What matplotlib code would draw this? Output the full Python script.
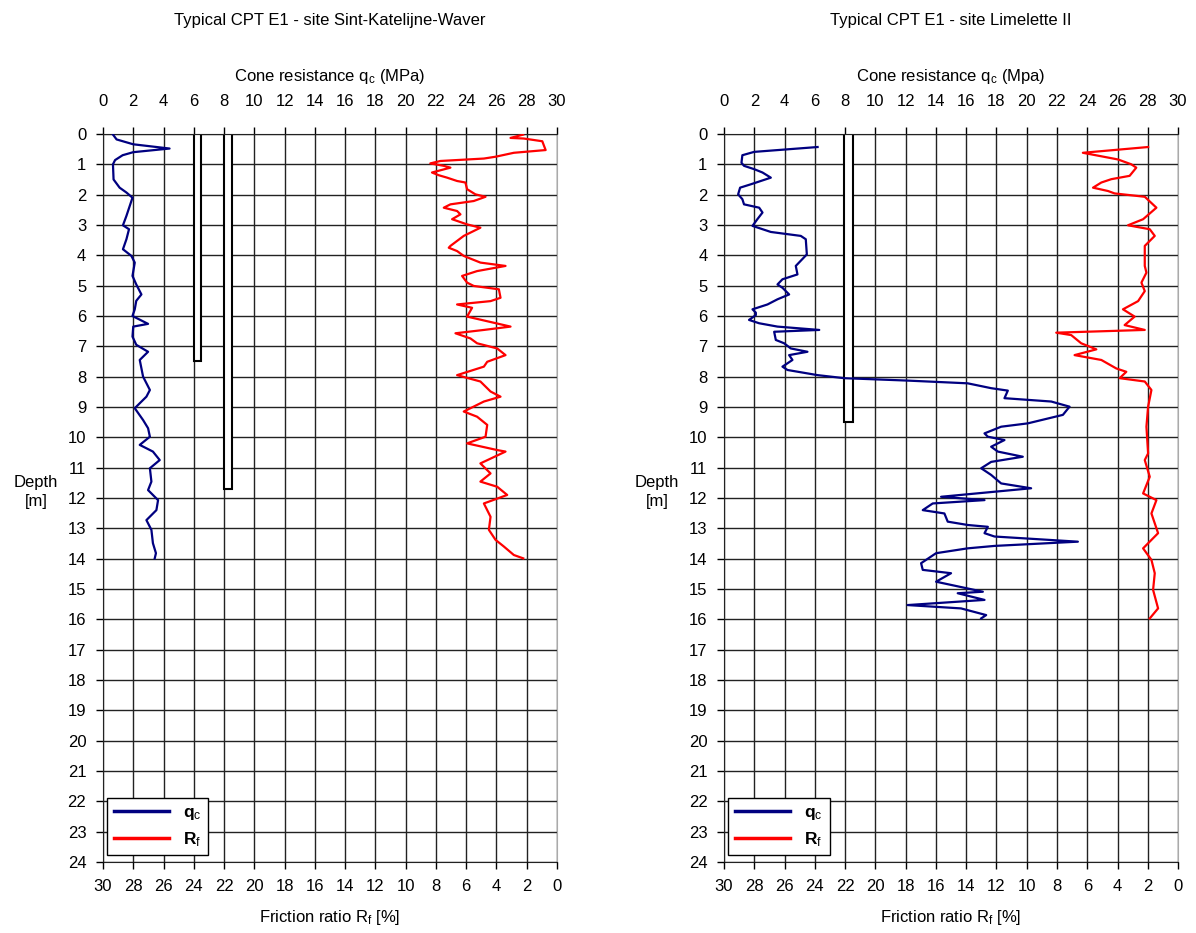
import numpy as np
import matplotlib.pyplot as plt
from matplotlib.patches import Rectangle

plt.rcParams['font.family'] = ['Liberation Sans', 'DejaVu Sans']
plt.rcParams['mathtext.fontset'] = 'custom'
plt.rcParams['mathtext.rm'] = 'Liberation Sans'
plt.rcParams['mathtext.it'] = 'Liberation Sans:italic'
plt.rcParams['mathtext.bf'] = 'Liberation Sans:bold'

# ========== Sint-Katelijne-Waver ========== #
skw_qc_depth = [0.02, 0.18, 0.34, 0.48, 0.6, 0.7, 0.86, 1.0, 1.5, 1.77, 1.93, 2.1, 2.37, 2.7,
                3.01, 3.14, 3.47, 3.8, 4.02, 4.24, 4.68, 4.96, 5.29, 5.5, 5.78, 6.0, 6.26, 6.35,
                6.68, 6.95, 7.18, 7.45, 8.0, 8.44, 8.66, 9.04, 9.43, 9.7, 9.98, 10.25, 10.47,
                10.75, 11.02, 11.46, 11.74, 12.07, 12.4, 12.73, 13.05, 13.49, 13.82, 13.99]
skw_qc = [0.66, 0.9, 2.0, 4.4, 2.0, 1.3, 0.8, 0.66, 0.7, 1.1, 1.55, 1.95, 1.77, 1.55,
          1.32, 1.72, 1.55, 1.32, 1.88, 2.1, 1.95, 2.2, 2.54, 2.2, 2.1, 1.95, 2.98, 2.0,
          1.95, 2.2, 2.98, 2.43, 2.65, 3.1, 2.87, 2.1, 2.65, 2.98, 3.1, 2.43, 3.3,
          3.75, 3.1, 3.2, 2.98, 3.64, 3.53, 2.87, 3.2, 3.3, 3.5, 3.42]

skw_rf_depth = [0.02, 0.13, 0.15, 0.24, 0.53, 0.62, 0.75, 0.81, 0.89, 0.97, 1.05, 1.11, 1.27,
                1.36, 1.44, 1.55, 1.6, 1.82, 1.99, 2.07, 2.21, 2.32, 2.43, 2.54, 2.65, 2.81,
                2.98, 3.09, 3.36, 3.69, 3.75, 3.86, 4.02, 4.24, 4.35, 4.52, 4.68, 4.9, 5.01,
                5.12, 5.4, 5.51, 5.62, 5.73, 6.02, 6.35, 6.46, 6.57, 6.74, 6.9, 7.07, 7.29,
                7.51, 7.67, 7.95, 8.16, 8.49, 8.66, 8.82, 9.15, 9.32, 9.59, 9.98, 10.2, 10.42,
                10.47, 10.86, 11.19, 11.46, 11.63, 11.9, 12.18, 12.62, 13.05, 13.38, 13.6,
                13.88, 13.99]
skw_rf = [2.23, 3.07, 2.19, 0.97, 0.75, 2.85, 4.06, 4.83, 7.7, 8.37, 7.48, 7.04, 8.26,
          7.81, 7.26, 6.6, 6.05, 5.94, 5.39, 4.72, 5.5, 7.04, 7.48, 6.6, 6.38, 6.93,
          5.94, 5.06, 6.16, 7.04, 7.15, 6.6, 6.16, 5.06, 3.4, 5.28, 6.27, 5.94, 5.5,
          3.84, 3.73, 4.39, 6.6, 5.61, 5.94, 3.07, 4.83, 6.71, 5.72, 5.28, 3.95, 3.4,
          4.61, 4.83, 6.6, 5.06, 4.39, 3.73, 4.83, 6.16, 5.28, 4.61, 4.72, 5.94, 3.95,
          3.4, 5.06, 4.39, 5.06, 3.95, 3.29, 4.83, 4.39, 4.5, 4.06, 3.51,
          2.85, 2.23]

# ========== Limelette II ========== #
lim_qc_depth = [0.43, 0.59, 0.7, 0.95, 1.05, 1.16, 1.27, 1.44, 1.66, 1.77, 1.99, 2.15, 2.32,
                2.43, 2.59, 2.81, 3.03, 3.23, 3.36, 3.47, 3.97, 4.35, 4.63, 4.79, 4.96, 5.07,
                5.29, 5.45, 5.62, 5.78, 5.89, 5.97, 6.13, 6.24, 6.35, 6.46, 6.52, 6.79, 6.9,
                7.07, 7.18, 7.29, 7.45, 7.67, 7.78, 7.95, 8.05, 8.13, 8.22, 8.38, 8.46, 8.71,
                8.82, 8.99, 9.26, 9.54, 9.65, 9.87, 9.98, 10.09, 10.31, 10.47, 10.64, 10.81,
                11.02, 11.24, 11.52, 11.68, 11.96, 12.07, 12.18, 12.4, 12.51, 12.78, 12.89,
                12.95, 13.16, 13.27, 13.44, 13.58, 13.66, 13.82, 14.15, 14.37, 14.48, 14.76,
                15.09, 15.14, 15.36, 15.53, 15.64, 15.86, 15.97]
lim_qc = [6.18, 1.99, 1.21, 1.15, 1.32, 1.99, 2.54, 3.09, 1.76, 1.06, 0.93, 1.21, 1.32,
          2.32, 2.54, 2.2, 1.88, 3.09, 5.07, 5.4, 5.47, 4.74, 4.85, 3.86, 3.53, 3.86,
          4.3, 3.53, 2.87, 1.88, 2.1, 2.1, 1.65, 2.32, 3.53, 6.29, 3.31, 3.42, 3.97,
          4.41, 5.51, 4.3, 4.52, 3.86, 4.19, 6.18, 7.94, 12.13, 16.1, 17.65, 18.75, 18.53,
          21.62, 22.83, 22.39, 20.07, 18.31, 17.21, 17.43, 18.53, 17.65, 18.09, 19.74, 17.65,
          16.99, 17.65, 18.31, 20.29, 14.34, 17.21, 13.79, 13.13, 14.56, 14.78, 16.1,
          17.43, 17.21, 17.87, 23.38, 17.87, 16.1, 14.01, 13.02, 13.13, 15.0, 14.01,
          17.1, 15.44, 17.21, 12.13, 15.66, 17.32, 16.99]

lim_rf_depth = [0.43, 0.62, 0.84, 1.0, 1.11, 1.38, 1.49, 1.6, 1.77, 1.88, 1.96, 2.07, 2.43,
                2.81, 3.01, 3.14, 3.36, 3.69, 4.35, 4.57, 4.9, 5.18, 5.51, 5.78, 6.02, 6.3,
                6.46, 6.55, 6.63, 6.9, 7.1, 7.29, 7.45, 7.73, 7.84, 8.05, 8.16, 8.44, 8.99,
                9.65, 10.53, 10.75, 11.3, 11.85, 12.07, 12.51, 13.16, 13.66, 14.04, 14.48,
                15.03, 15.64, 15.97]
lim_rf = [1.98, 6.29, 3.97, 3.09, 2.76, 3.2, 4.41, 5.07, 5.62, 4.63, 4.19, 2.2, 1.43,
          2.31, 3.31, 1.87, 1.54, 2.2, 2.2, 2.09, 2.42, 2.2, 2.64, 3.64, 2.87, 3.53,
          2.2, 8.05, 7.06, 6.4, 5.4, 6.84, 5.07, 4.08, 3.42, 3.86, 2.2, 1.76, 1.98,
          2.09, 1.98, 2.2, 1.87, 2.31, 1.43, 1.76, 1.32, 2.31, 1.76, 1.54,
          1.65, 1.32, 1.87]

# rectangles (qc from, qc to, depth bottom)
skw_rects = [(6.03, 6.48, 7.48), (8.02, 8.55, 11.7)]
lim_rects = [(7.95, 8.5, 9.5)]

FS = 12


def draw_panel(left, title, qc_label, qc_depth, qc, rf_depth, rf, rects):
    ax = fig.add_axes([left, 0.0761, 0.3796, 0.7803])
    ax2 = ax.twiny()

    ax.set_xlim(0, 30)
    ax.set_ylim(24, 0)
    ax.set_xticks(np.arange(0, 31, 2))
    ax.set_yticks(np.arange(0, 25, 1))
    ax.grid(True, color='#222222', linewidth=1.0)
    ax.set_axisbelow(True)
    ax.xaxis.set_ticks_position('top')
    ax.xaxis.set_label_position('top')
    ax.tick_params(axis='x', direction='out', length=5, width=1, pad=13, labelsize=FS,
                   top=True, bottom=False, labeltop=True, labelbottom=False)
    ax.tick_params(axis='y', direction='out', length=5, width=1, pad=7, labelsize=FS)
    ax.set_xlabel(qc_label, fontsize=FS, labelpad=9)
    for sp in ax.spines.values():
        sp.set_color('#222222')
    ax.spines['right'].set_color('#aaaaaa')

    for x0, x1, d in rects:
        ax.add_patch(Rectangle((x0, 0), x1 - x0, d, facecolor='white',
                               edgecolor='black', linewidth=1.5, zorder=2))

    l1, = ax.plot(qc, qc_depth, color='#000080', linewidth=1.6, zorder=3,
                  label=r'$\mathbf{q}_\mathrm{c}$')

    ax2.set_xlim(30, 0)
    ax2.set_ylim(24, 0)
    ax2.set_xticks(np.arange(0, 31, 2))
    ax2.xaxis.set_ticks_position('bottom')
    ax2.xaxis.set_label_position('bottom')
    ax2.tick_params(axis='x', direction='out', length=5, width=1, pad=7, labelsize=FS,
                    top=False, bottom=True, labeltop=False, labelbottom=True)
    ax2.set_xlabel(r'Friction ratio R$_\mathrm{f}$ [%]', fontsize=FS, labelpad=10)
    for sp in ax2.spines.values():
        sp.set_visible(False)
    l2, = ax2.plot(rf, rf_depth, color='#ff0000', linewidth=1.6, zorder=3,
                   label=r'$\mathbf{R}_\mathrm{f}$')

    leg = ax2.legend(handles=[l1, l2], loc='lower left', bbox_to_anchor=(0.008, 0.009),
                     borderaxespad=0, fancybox=False, framealpha=1, edgecolor='black',
                     fontsize=12.5, handlelength=3.2, labelspacing=0.45)
    leg.get_frame().set_linewidth(1.0)
    for line in leg.get_lines():
        line.set_linewidth(2.5)

    cx = left + 0.3796 / 2
    fig.text(cx, 1 - 20 / 933, title, ha='center', va='center', fontsize=FS)
    fig.text(left - 0.056, 1 - 492 / 933, 'Depth\n[m]', ha='center', va='center',
             fontsize=FS, linespacing=1.3)


fig = plt.figure(figsize=(11.96, 9.33), dpi=100)

draw_panel(0.0861, 'Typical CPT E1 - site Sint-Katelijne-Waver',
           r'Cone resistance q$_\mathrm{c}$ (MPa)',
           skw_qc_depth, skw_qc, skw_rf_depth, skw_rf, skw_rects)
draw_panel(0.6054, 'Typical CPT E1 - site Limelette II',
           r'Cone resistance q$_\mathrm{c}$ (Mpa)',
           lim_qc_depth, lim_qc, lim_rf_depth, lim_rf, lim_rects)

fig.savefig('out.png', dpi=100)
